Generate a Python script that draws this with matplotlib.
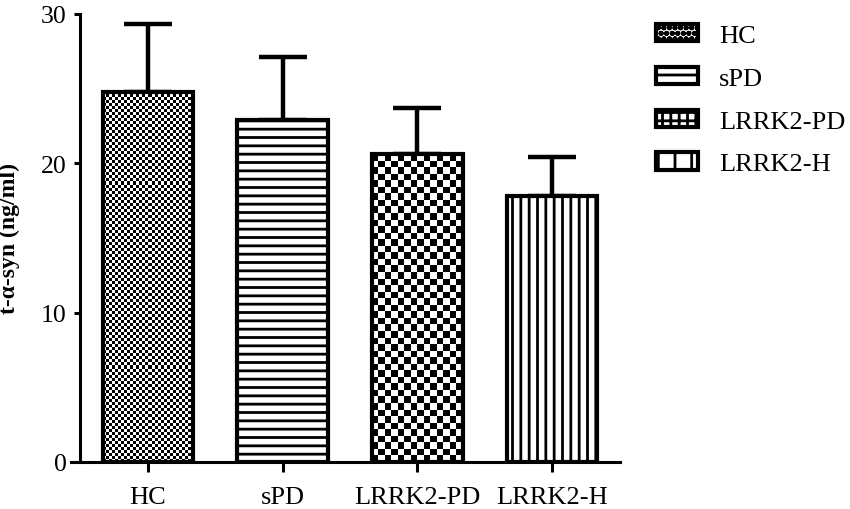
import numpy as np
import matplotlib
matplotlib.use("Agg")
import matplotlib.pyplot as plt
from matplotlib.patches import Patch

# Daten
groups = ["HC", "sPD", "LRRK2-PD", "LRRK2-H"]
means = [24.8, 22.9, 20.6, 17.8]
sds = [4.5, 4.2, 3.1, 2.6]
y_ticks = [0, 10, 20, 30]

plt.rcParams["font.family"] = ["Liberation Serif", "DejaVu Serif"]
plt.rcParams["hatch.linewidth"] = 2.0

# Muster je Gruppe: (hatch, Karo-Zellgröße in Pixel)
styles = [(None, 3.0), ("--", None), (None, 6.5), ("||", None)]
legend_hatch = ["ooo", "-", "++", "|"]

fig, ax = plt.subplots(figsize=(8.5, 5.1), dpi=100)
fig.subplots_adjust(left=0.0835, right=0.729, bottom=0.0922, top=0.9706)

x = np.arange(len(groups))
width = 0.67
ax.set_xlim(-0.57, 3.5)
ax.set_ylim(0, 30)

# Fehlerbalken nur nach oben
ax.errorbar(x, means, yerr=[np.zeros(len(sds)), sds], fmt="none", ecolor="black",
            elinewidth=3.2, capsize=17, capthick=3.2, zorder=1)

bars = ax.bar(x, means, width, facecolor="white", edgecolor="black", linewidth=0, zorder=2)
for bar, (hatch, cell) in zip(bars, styles):
    if hatch:
        bar.set_hatch(hatch)
    if cell:
        x0, x1 = bar.get_x(), bar.get_x() + bar.get_width()
        y0, y1 = 0, bar.get_height()
        p0 = ax.transData.transform((x0, y0))
        p1 = ax.transData.transform((x1, y1))
        nx = max(1, int(round((p1[0] - p0[0]) / cell)))
        ny = max(1, int(round((p1[1] - p0[1]) / cell)))
        jj, ii = np.meshgrid(np.arange(nx), np.arange(ny))
        checker = ((ii + jj) % 2).astype(float)
        im = ax.imshow(checker, cmap="gray", vmin=0, vmax=1, extent=(x0, x1, y0, y1),
                       origin="lower", aspect="auto", interpolation="nearest", zorder=3)
        im.set_clip_path(bar)

# Balkenrahmen oben drauf
ax.bar(x, means, width, fill=False, edgecolor="black", linewidth=3, zorder=4)
ax.set_xlim(-0.57, 3.5)
ax.set_ylim(0, 30)

for s in ["top", "right"]:
    ax.spines[s].set_visible(False)
ax.spines["left"].set_position(("data", -0.505))
ax.spines["left"].set_linewidth(2.2)
ax.spines["bottom"].set_linewidth(2.2)

ax.set_yticks(y_ticks)
ax.set_xticks(x)
ax.set_xticklabels(groups)
ax.tick_params(axis="y", length=4.5, width=2.2, pad=5, labelsize=18.5)
ax.tick_params(axis="x", length=7, width=2.2, pad=10, labelsize=19)

ax.set_ylabel("t-α-syn (ng/ml)", fontsize=17, fontweight="bold")
ax.yaxis.set_label_coords(-0.092, 0.5)

handles = [Patch(facecolor="white", edgecolor="black", linewidth=3, hatch=h)
           for h in legend_hatch]
fig.legend(handles, groups, loc="upper left", bbox_to_anchor=(656 / 850, 1 - 25 / 510),
           frameon=False, fontsize=19, handlelength=1.6, handleheight=0.64,
           handletextpad=0.8, labelspacing=0.75, borderpad=0, borderaxespad=0)

fig.savefig("out.png", dpi=100)
